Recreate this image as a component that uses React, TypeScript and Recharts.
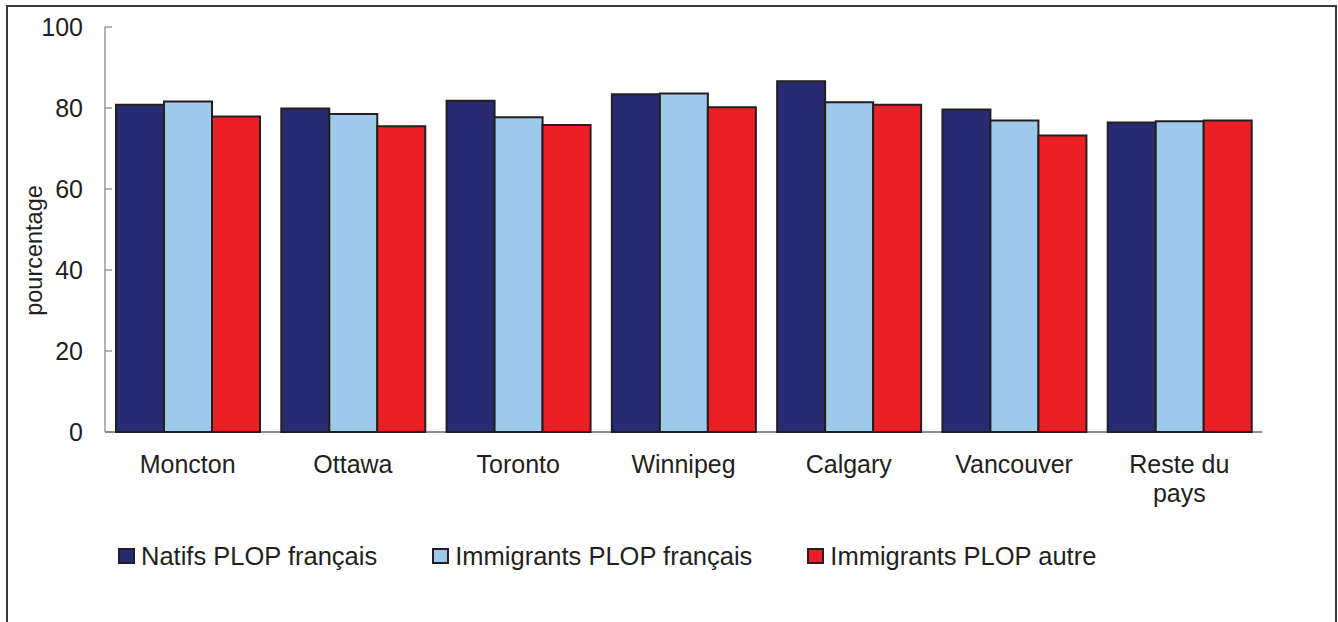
import React from 'react';
import { BarChart, Bar, XAxis, YAxis, Legend, Label } from 'recharts';

const categories = ['Moncton', 'Ottawa', 'Toronto', 'Winnipeg', 'Calgary', 'Vancouver', 'Reste du pays'];
const natifsFrancais = [80.8, 79.9, 81.8, 83.4, 86.6, 79.6, 76.4];
const immigrantsFrancais = [81.6, 78.5, 77.7, 83.6, 81.4, 76.9, 76.7];
const immigrantsAutre = [77.9, 75.5, 75.8, 80.2, 80.8, 73.2, 76.9];
const yTicks = [0, 20, 40, 60, 80, 100];

const seriesNames = ['Natifs PLOP français', 'Immigrants PLOP français', 'Immigrants PLOP autre'];
const seriesKeys = ['natifs', 'immFr', 'immAutre'];
const seriesColors = ['#282a72', '#9fc9ea', '#ec2024'];

const data = categories.map((c, i) => ({
  name: c,
  natifs: natifsFrancais[i],
  immFr: immigrantsFrancais[i],
  immAutre: immigrantsAutre[i],
}));

const FONT = '"Liberation Sans", Arial, Helvetica, sans-serif';
const TEXT = '#231f20';

const XTick = (props: any) => {
  const { x, y, payload } = props;
  const words: string[] = String(payload.value).split(' ');
  const lines: string[] = [];
  if (words.length > 2) {
    lines.push(words.slice(0, words.length - 1).join(' '));
    lines.push(words[words.length - 1]);
  } else {
    lines.push(words.join(' '));
  }
  return (
    <text x={x} y={y} textAnchor="middle" fill={TEXT} fontSize={25} fontFamily={FONT}>
      {lines.map((l, i) => (
        <tspan key={i} x={x} dy={i === 0 ? 41 : 29}>
          {l}
        </tspan>
      ))}
    </text>
  );
};

const YTick = (props: any) => {
  const { x, y, payload } = props;
  return (
    <g>
      <line x1={x} x2={x + 7} y1={y} y2={y} stroke="#808080" strokeWidth={1.2} />
      <text x={x - 22} y={y} dy="0.36em" textAnchor="end" fill={TEXT} fontSize={25} fontFamily={FONT}>
        {payload.value}
      </text>
    </g>
  );
};

const LegendContent = () => (
  <div style={{ display: 'flex', alignItems: 'center', paddingLeft: 118, height: 40 }}>
    {seriesNames.map((n, i) => (
      <div key={n} style={{ display: 'flex', alignItems: 'center', marginRight: 55 }}>
        <span
          style={{
            display: 'inline-block',
            width: 17,
            height: 16,
            boxSizing: 'border-box',
            background: seriesColors[i],
            border: `2px solid ${TEXT}`,
            marginRight: 6,
          }}
        />
        <span style={{ fontSize: 25.5, fontFamily: FONT, color: TEXT, lineHeight: '30px', whiteSpace: 'nowrap' }}>{n}</span>
      </div>
    ))}
  </div>
);

const YLabel = (props: any) => {
  const { viewBox } = props;
  const cx = viewBox.x - 11;
  const cy = viewBox.y + viewBox.height / 2 + 21;
  return (
    <text
      x={cx}
      y={cy}
      transform={`rotate(-90, ${cx}, ${cy})`}
      textAnchor="middle"
      dominantBaseline="central"
      fill={TEXT}
      fontSize={23.5}
      fontFamily={FONT}
    >
      pourcentage
    </text>
  );
};

export default function App() {
  return (
    <div
      style={{
        position: 'fixed',
        left: 0,
        top: 0,
        width: 1338,
        height: 622,
        overflow: 'hidden',
        background: '#fff',
        fontFamily: FONT,
      }}
    >
      <div
        style={{
          position: 'absolute',
          left: 6,
          top: 5,
          width: 1331,
          height: 700,
          boxSizing: 'border-box',
          border: '2px solid #3a3a3a',
        }}
      />
      <div style={{ position: 'absolute', left: 0, top: 0 }}>
        <BarChart
          width={1338}
          height={622}
          data={data}
          margin={{ top: 27, right: 76, left: 45, bottom: 90 }}
          barCategoryGap={11}
          barGap={0}
        >
          <XAxis
            dataKey="name"
            height={60}
            axisLine={{ stroke: TEXT, strokeWidth: 1.2 }}
            tickLine={false}
            tickSize={0}
            tickMargin={0}
            interval={0}
            tick={<XTick />}
          />
          <YAxis
            width={60}
            domain={[0, 100]}
            ticks={yTicks}
            axisLine={{ stroke: '#808080', strokeWidth: 1.2 }}
            tickLine={false}
            tickSize={0}
            tickMargin={0}
            tick={<YTick />}
          >
            <Label content={<YLabel />} />
          </YAxis>
          <Legend
            verticalAlign="bottom"
            content={<LegendContent />}
            wrapperStyle={{ position: 'absolute', left: 0, top: 536, width: 1338, height: 40 }}
          />
          {seriesKeys.map((k, i) => (
            <Bar
              key={k}
              dataKey={k}
              name={seriesNames[i]}
              fill={seriesColors[i]}
              stroke={TEXT}
              strokeWidth={2}
              isAnimationActive={false}
            />
          ))}
        </BarChart>
      </div>
    </div>
  );
}
